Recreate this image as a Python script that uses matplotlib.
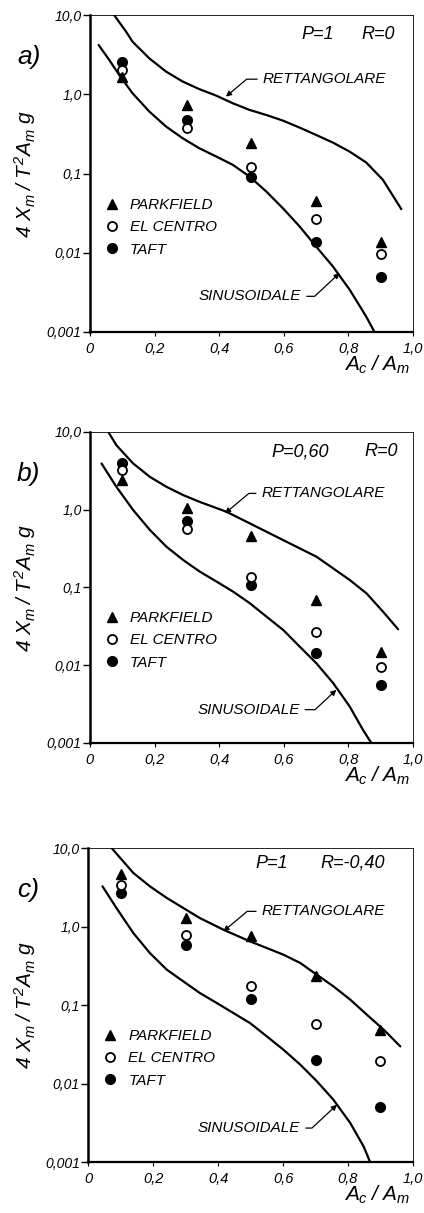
import matplotlib
matplotlib.use('Agg')
import matplotlib.pyplot as plt
from matplotlib.lines import Line2D

plt.rcParams['font.family'] = ['Liberation Sans', 'DejaVu Sans']
plt.rcParams['mathtext.fontset'] = 'custom'
plt.rcParams['mathtext.it'] = 'Liberation Sans:italic'
plt.rcParams['mathtext.rm'] = 'Liberation Sans:italic'
plt.rcParams['mathtext.sf'] = 'Liberation Sans'

# ---------------- data ----------------
x_pts = [0.10, 0.30, 0.50, 0.70, 0.90]

park_a = [1.64, 0.73, 0.246, 0.0448, 0.0136]
elc_a = [2.03, 0.37, 0.122, 0.0268, 0.0097]
taft_a = [2.58, 0.48, 0.090, 0.0136, 0.0049]

park_b = [2.44, 1.04, 0.46, 0.069, 0.0150]
elc_b = [3.22, 0.56, 0.138, 0.0266, 0.0096]
taft_b = [3.93, 0.72, 0.108, 0.0143, 0.0056]

park_c = [4.71, 1.28, 0.75, 0.232, 0.0485]
elc_c = [3.34, 0.77, 0.176, 0.057, 0.0191]
taft_c = [2.67, 0.59, 0.119, 0.0197, 0.0051]

rett_a_x = [0.075, 0.112, 0.132, 0.184, 0.236, 0.287, 0.339, 0.391, 0.442, 0.494,
            0.546, 0.597, 0.649, 0.700, 0.752, 0.804, 0.855, 0.907, 0.964]
rett_a_y = [10.0, 6.17, 4.61, 2.84, 1.93, 1.45, 1.16, 0.962, 0.771, 0.635,
            0.548, 0.466, 0.380, 0.307, 0.246, 0.189, 0.138, 0.0832, 0.0355]
sin_a_x = [0.027, 0.060, 0.091, 0.132, 0.184, 0.236, 0.287, 0.339, 0.391, 0.442,
           0.494, 0.546, 0.597, 0.649, 0.700, 0.752, 0.804, 0.855, 0.881]
sin_a_y = [4.19, 2.71, 1.75, 1.03, 0.605, 0.391, 0.279, 0.208, 0.164, 0.129,
           0.0916, 0.0593, 0.0366, 0.0215, 0.0120, 0.00673, 0.00342, 0.00157, 0.00100]

rett_b_x = [0.057, 0.082, 0.134, 0.186, 0.237, 0.289, 0.340, 0.423, 0.495, 0.598,
            0.701, 0.804, 0.856, 0.907, 0.954]
rett_b_y = [10.0, 6.75, 3.93, 2.64, 1.97, 1.54, 1.26, 0.94, 0.667, 0.407,
            0.249, 0.125, 0.0841, 0.0490, 0.0290]
sin_b_x = [0.036, 0.082, 0.134, 0.186, 0.237, 0.289, 0.340, 0.392, 0.443, 0.495,
           0.546, 0.598, 0.649, 0.701, 0.753, 0.804, 0.845, 0.871]
sin_b_y = [3.93, 1.97, 0.989, 0.547, 0.334, 0.225, 0.160, 0.119, 0.0885, 0.0627,
           0.0423, 0.0285, 0.0174, 0.0106, 0.00589, 0.00295, 0.00148, 0.00100]

rett_c_x = [0.072, 0.139, 0.190, 0.242, 0.293, 0.344, 0.416, 0.498, 0.550, 0.601,
            0.653, 0.704, 0.755, 0.807, 0.858, 0.910, 0.961]
rett_c_y = [10.0, 4.81, 3.25, 2.31, 1.72, 1.28, 0.912, 0.647, 0.532, 0.438,
            0.343, 0.243, 0.173, 0.117, 0.0753, 0.0485, 0.0297]
sin_c_x = [0.044, 0.087, 0.139, 0.190, 0.242, 0.293, 0.344, 0.396, 0.447, 0.498,
           0.550, 0.601, 0.653, 0.704, 0.755, 0.807, 0.848, 0.868]
sin_c_y = [3.25, 1.72, 0.826, 0.459, 0.282, 0.200, 0.142, 0.106, 0.0791, 0.0590,
           0.0399, 0.0270, 0.0174, 0.0107, 0.00622, 0.00314, 0.00158, 0.00100]

y_ticks = [0.001, 0.01, 0.1, 1.0, 10.0]
y_labels = ['0,001', '0,01', '0,1', '1,0', '10,0']
x_ticks = [0, 0.2, 0.4, 0.6, 0.8, 1.0]
x_labels = ['0', '0,2', '0,4', '0,6', '0,8', '1,0']
series_names = ['PARKFIELD', 'EL CENTRO', 'TAFT']

panels = [
    dict(letter='a)', P='P=1', R='R=0', Px=0.656, Rx=0.842, PRy=5.6,
         park=park_a, elc=elc_a, taft=taft_a,
         rx=rett_a_x, ry=rett_a_y, sx=sin_a_x, sy=sin_a_y,
         rtxt=(0.535, 1.55), rtip=(0.421, 0.935),
         stxt=(0.654, 0.00282), stip=(0.773, 0.00555),
         rect=[0.212, 0.7263, 0.762, 0.2613]),
    dict(letter='b)', P='P=0,60', R='R=0', Px=0.562, Rx=0.851, PRy=5.6,
         park=park_b, elc=elc_b, taft=taft_b,
         rx=rett_b_x, ry=rett_b_y, sx=sin_b_x, sy=sin_b_y,
         rtxt=(0.531, 1.62), rtip=(0.418, 0.895),
         stxt=(0.649, 0.00268), stip=(0.763, 0.00483),
         rect=[0.212, 0.3875, 0.762, 0.2564]),
    dict(letter='c)', P='P=1', R='R=-0,40', Px=0.514, Rx=0.714, PRy=6.44,
         park=park_c, elc=elc_c, taft=taft_c,
         rx=rett_c_x, ry=rett_c_y, sx=sin_c_x, sy=sin_c_y,
         rtxt=(0.534, 1.56), rtip=(0.416, 0.867),
         stxt=(0.653, 0.00271), stip=(0.766, 0.00537),
         rect=[0.208, 0.0420, 0.766, 0.2589]),
]

FIG_W, FIG_H = 424, 1213
fig = plt.figure(figsize=(FIG_W / 100, FIG_H / 100), dpi=100)

for p in panels:
    ax = fig.add_axes(p['rect'])
    ax.set_yscale('log')
    ax.set_xlim(0, 1.0)
    ax.set_ylim(0.001, 10.0)

    ax.plot(p['rx'], p['ry'], color='black', lw=1.6, solid_capstyle='round',
            solid_joinstyle='round')
    ax.plot(p['sx'], p['sy'], color='black', lw=1.6, solid_capstyle='round',
            solid_joinstyle='round')

    ax.plot(x_pts, p['taft'], 'o', ms=7, mfc='black', mec='black', zorder=3)
    ax.plot(x_pts, p['elc'], 'o', ms=6.5, mfc='white', mec='black', mew=1.3, zorder=4)
    ax.plot(x_pts, p['park'], '^', ms=7.5, mfc='black', mec='black', zorder=5)

    ax.set_yticks(y_ticks)
    ax.set_yticklabels(y_labels)
    ax.yaxis.set_minor_locator(matplotlib.ticker.NullLocator())
    ax.set_xticks(x_ticks)
    ax.set_xticklabels(x_labels)
    ax.tick_params(axis='y', direction='out', length=5, width=1.0, pad=1,
                   labelsize=10)
    ax.tick_params(axis='x', direction='out', length=3, width=0.8, pad=4,
                   labelsize=10.5)
    for lab in ax.get_xticklabels() + ax.get_yticklabels():
        lab.set_fontstyle('italic')

    ax.spines['left'].set_linewidth(1.8)
    ax.spines['bottom'].set_linewidth(1.6)
    ax.spines['top'].set_linewidth(0.6)
    ax.spines['right'].set_linewidth(0.6)

    ax.text(p['Px'], p['PRy'], p['P'], fontsize=13, style='italic',
            ha='left', va='center')
    ax.text(p['Rx'], p['PRy'], p['R'], fontsize=13, style='italic',
            ha='left', va='center')

    ax.annotate('RETTANGOLARE', xy=p['rtip'], xytext=p['rtxt'],
                fontsize=11, style='italic', ha='left', va='center',
                arrowprops=dict(arrowstyle='-|>', color='black', lw=0.9,
                                mutation_scale=8, shrinkA=2, shrinkB=0,
                                relpos=(0, 0.5),
                                connectionstyle='angle,angleA=0,angleB=40,rad=0'))
    ax.annotate('SINUSOIDALE', xy=p['stip'], xytext=p['stxt'],
                fontsize=11, style='italic', ha='right', va='center',
                arrowprops=dict(arrowstyle='-|>', color='black', lw=0.9,
                                mutation_scale=8, shrinkA=2, shrinkB=0,
                                relpos=(1, 0.5),
                                connectionstyle='angle,angleA=0,angleB=43,rad=0'))

    handles = [Line2D([], [], ls='none', marker='^', ms=7.5, mfc='black', mec='black'),
               Line2D([], [], ls='none', marker='o', ms=6.5, mfc='white', mec='black', mew=1.3),
               Line2D([], [], ls='none', marker='o', ms=7, mfc='black', mec='black')]
    ax.legend(handles, series_names, loc='center left', bbox_to_anchor=(0.044, 0.33),
              frameon=False, handlelength=1.0, handletextpad=0.68,
              labelspacing=0.55, borderaxespad=0.0, borderpad=0.0,
              prop={'style': 'italic', 'size': 11})

    bb = p['rect']
    left_px = bb[0] * FIG_W
    width_px = bb[2] * FIG_W
    ax.set_ylabel(r'$4\ X_m\;/\;T^2A_m\ g$', fontsize=15)
    ax.yaxis.set_label_coords((38 - left_px) / width_px, 0.5)
    ax.text(0.99, -0.105, r'$A_c\;/\;A_m$', transform=ax.transAxes,
            fontsize=15, ha='right', va='center')

    # panel letter
    fig.text(0.04, bb[1] + bb[3] - 0.035, p['letter'], fontsize=19,
             style='italic', ha='left', va='center')

fig.savefig('out.png', dpi=100)
